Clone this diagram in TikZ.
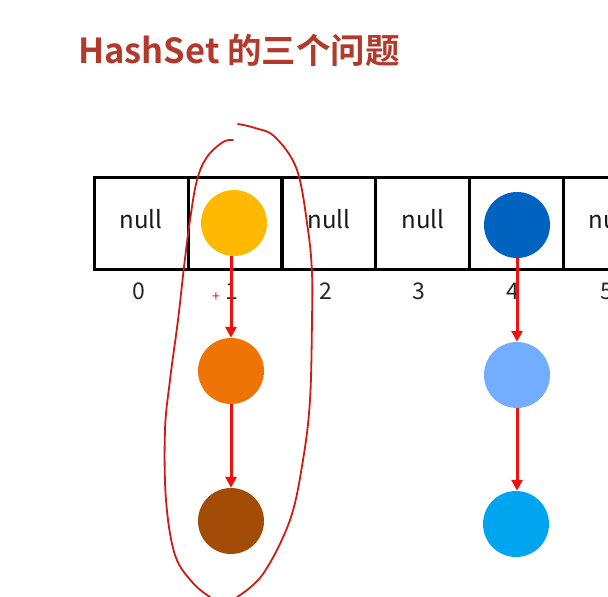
\documentclass[tikz,border=0pt]{standalone}
\usepackage{fontspec}
\newfontfamily\cjk{Noto Sans CJK SC}
\newfontfamily\cjkbold{Noto Sans CJK SC Bold}
\usetikzlibrary{arrows.meta}
\definecolor{titlered}{HTML}{B23A2C}
\definecolor{cYellow}{HTML}{FFB900}
\definecolor{cOrange}{HTML}{EF7406}
\definecolor{cBrown}{HTML}{A24C05}
\definecolor{cDark}{HTML}{0063C0}
\definecolor{cLight}{HTML}{72ADFF}
\definecolor{cCyan}{HTML}{00A4EF}
\definecolor{penred}{HTML}{D01A14}
\definecolor{arrred}{HTML}{F01010}
\tikzset{
  cellbox/.style={draw=black, line width=3pt, minimum width=94pt, minimum height=92pt, inner sep=0pt},
  celltext/.style={font=\cjk\fontsize{24}{24}\selectfont, text=black!90},
  idx/.style={font=\cjk\fontsize{23}{23}\selectfont, text=black!85},
  ball/.style={circle, minimum size=66pt, inner sep=0pt, draw=none},
  link/.style={draw=arrred, line width=3pt, -{Triangle[length=11pt,width=11pt]}},
  pen/.style={draw=penred, line width=1.8pt, line cap=round, line join=round},
}
\begin{document}
\begin{tikzpicture}[x=1pt,y=-1pt]
\useasboundingbox (0,0) rectangle (608,597);
\clip (0,0) rectangle (608,597);
\node[anchor=base west, font=\cjkbold\fontsize{34.5}{34.5}\selectfont, text=titlered, inner sep=0pt] (title) at (78,63) {HashSet 的三个问题};
% cells
\foreach \i/\cx in {0/141.5,1/235,2/328.5,3/422,4/516,5/610}{
  \node[cellbox] (c\i) at (\cx,223) {};
  \node[idx] (i\i) at (\cx-3,291) {\i};
}
\node[celltext] (n0) at (141,219) {null};
\node[celltext] (n2) at (329,219) {null};
\node[celltext] (n3) at (423,219) {null};
\node[celltext] (n5) at (610,219) {null};
% balls
\node[ball, fill=cYellow] (y1) at (234,223) {};
\node[ball, fill=cOrange] (o1) at (231,371) {};
\node[ball, fill=cBrown] (b1) at (231,521) {};
\node[ball, fill=cDark] (d1) at (517,225) {};
\node[ball, fill=cLight] (l1) at (517,375) {};
\node[ball, fill=cCyan] (s1) at (516,524) {};
\path[link] (y1.south -| o1) -- (o1.north);
\path[link] (o1.south) -- (b1.north);
\path[link] (d1.south) -- (l1.north);
\path[link] (l1.south) -- (s1.north -| l1);
% small plus
\node[text=penred, font=\cjk\fontsize{14}{14}\selectfont, inner sep=0pt] (plus) at (216,297) {+};
% hand drawn loop
\draw[pen] plot[smooth, tension=0.6] coordinates {
 (233,140) (223,142) (207,157) (197,180) (190,220) (184,267) (178,320)
 (170,380) (165,430) (166,500) (175,555) (193,583) (210,597)};
\draw[pen] plot[smooth, tension=0.6] coordinates {
 (237,597) (263,574) (290,520) (303,460) (310,400) (312,320) (312,273)
 (308,230) (297,170) (275,137) (255,128) (238,124)};
\end{tikzpicture}
\end{document}
